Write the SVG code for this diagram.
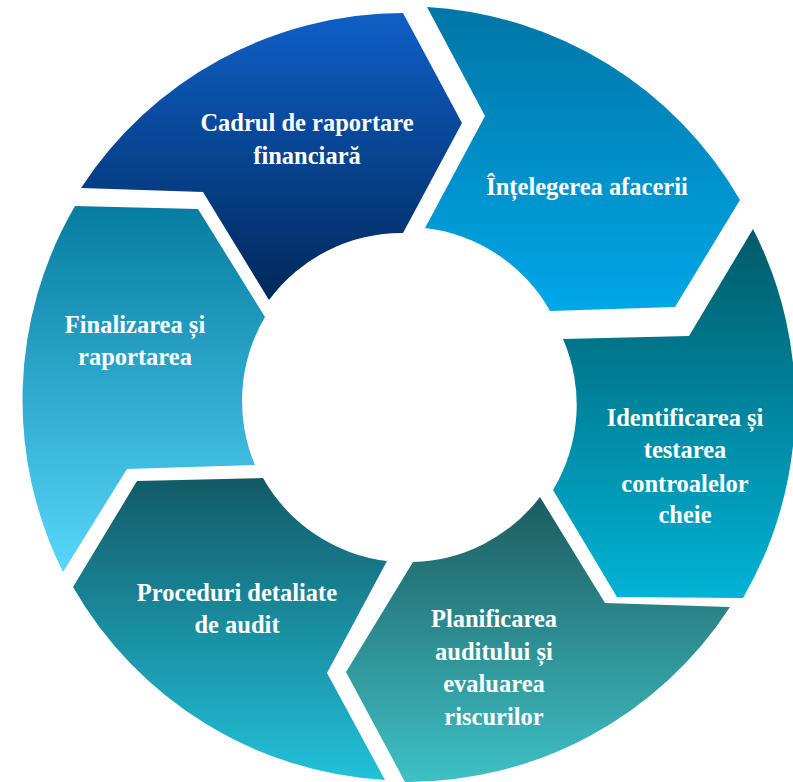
<svg xmlns="http://www.w3.org/2000/svg" width="793" height="782" viewBox="0 0 793 782">
<style>
.lbl{font-family:"Liberation Serif","Times New Roman",serif;font-weight:bold;font-size:24.5px;fill:#ffffff;text-anchor:middle}
</style>
<defs>
<linearGradient id="gCadrul" x1="0" y1="0" x2="0" y2="1"><stop offset="0" stop-color="#0E5FC6"/><stop offset="1" stop-color="#01285B"/></linearGradient>
<linearGradient id="gIntel" x1="0" y1="0" x2="0" y2="1"><stop offset="0" stop-color="#0076A6"/><stop offset="1" stop-color="#00A7E8"/></linearGradient>
<linearGradient id="gIdent" x1="0" y1="0" x2="0" y2="1"><stop offset="0" stop-color="#005A69"/><stop offset="1" stop-color="#00B3D6"/></linearGradient>
<linearGradient id="gPlan" x1="0" y1="0" x2="0" y2="1"><stop offset="0" stop-color="#1D5B5E"/><stop offset="1" stop-color="#3EC1C6"/></linearGradient>
<linearGradient id="gProc" x1="0" y1="0" x2="0" y2="1"><stop offset="0" stop-color="#125A66"/><stop offset="1" stop-color="#22C1DA"/></linearGradient>
<linearGradient id="gFinal" x1="0" y1="0" x2="0" y2="1"><stop offset="0" stop-color="#067CA0"/><stop offset="1" stop-color="#58D6FB"/></linearGradient>
</defs>
<rect width="793" height="782" fill="#ffffff"/>
<g id="node-cadrul">
<path d="M81,188 A385,385 0 0 1 403,13 L462,123 L403,233 A165,165 0 0 0 269,300 L203,192 Z" fill="url(#gCadrul)"/>
<text class="lbl" x="307" y="131">Cadrul de raportare</text>
<text class="lbl" x="307" y="164">financiară</text>
</g>
<g id="node-intelegerea">
<path d="M427,7 A388,388 0 0 1 740,200 L675,307 L550,311 A165,165 0 0 0 425,228 L485,116 Z" fill="url(#gIntel)"/>
<text class="lbl" x="587" y="195">Înțelegerea afacerii</text>
</g>
<g id="node-identificarea">
<path d="M753,229 A385,385 0 0 1 743,598 L617,597 L553,490 A165,165 0 0 0 563,339 L689,336 Z" fill="url(#gIdent)"/>
<text class="lbl" x="685" y="426">Identificarea și</text>
<text class="lbl" x="685" y="458">testarea</text>
<text class="lbl" x="685" y="492">controalelor</text>
<text class="lbl" x="685" y="523">cheie</text>
</g>
<g id="node-planificarea">
<path d="M730,607 A385,385 0 0 1 405,782 L346,672 L413,562 A165,165 0 0 0 540,497 L605,603 Z" fill="url(#gPlan)"/>
<text class="lbl" x="494" y="627">Planificarea</text>
<text class="lbl" x="494" y="660">auditului și</text>
<text class="lbl" x="494" y="692">evaluarea</text>
<text class="lbl" x="494" y="725">riscurilor</text>
</g>
<g id="node-proceduri">
<path d="M385,780 A385,385 0 0 1 73,587 L137,481 L263,478 A165,165 0 0 0 387,561 L327,673 Z" fill="url(#gProc)"/>
<text class="lbl" x="237" y="601">Proceduri detaliate</text>
<text class="lbl" x="237" y="633">de audit</text>
</g>
<g id="node-finalizarea">
<path d="M63,572 A385,385 0 0 1 75,206 L198,209 L265,317 A165,165 0 0 0 255,465 L127,469 Z" fill="url(#gFinal)"/>
<text class="lbl" x="135" y="333">Finalizarea și</text>
<text class="lbl" x="135" y="365">raportarea</text>
</g>
</svg>
